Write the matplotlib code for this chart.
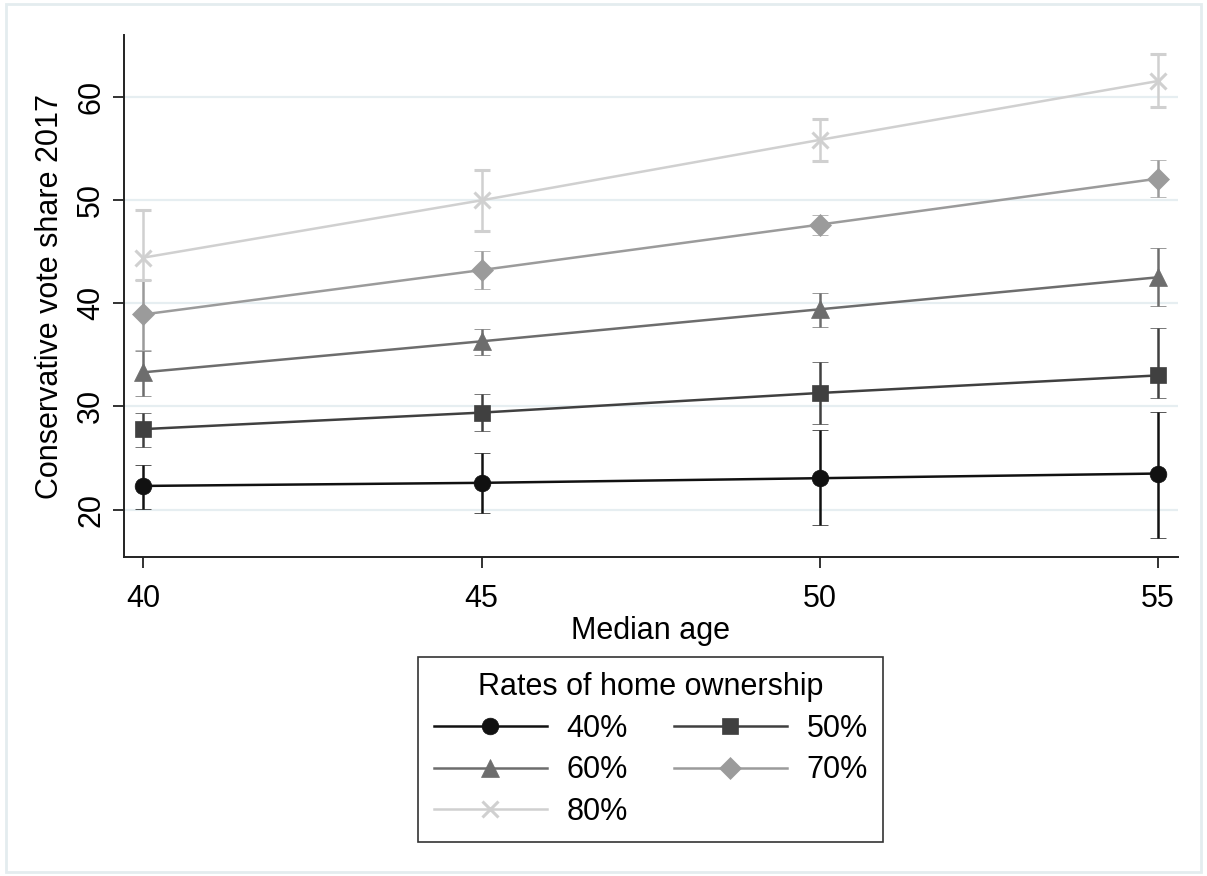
import matplotlib
matplotlib.use("Agg")
import matplotlib.pyplot as plt
from matplotlib.lines import Line2D
from matplotlib.patches import Rectangle

plt.rcParams['font.family'] = ['Liberation Sans', 'DejaVu Sans']

# margins plot: predicted vote share by median age, one line per home ownership rate
median_age = [40, 45, 50, 55]
groups = ["40%", "50%", "60%", "70%", "80%"]

share = {
    "40%": [22.3, 22.6, 23.05, 23.5],
    "50%": [27.8, 29.4, 31.3, 33.0],
    "60%": [33.3, 36.3, 39.4, 42.5],
    "70%": [38.9, 43.2, 47.6, 52.05],
    "80%": [44.4, 49.95, 55.8, 61.5],
}
ci_low = {
    "40%": [20.1, 19.7, 18.55, 17.3],
    "50%": [26.1, 27.6, 28.3, 30.8],
    "60%": [31.0, 35.0, 37.7, 39.7],
    "70%": [35.5, 41.4, 46.6, 50.3],
    "80%": [42.2, 47.0, 53.75, 59.0],
}
ci_high = {
    "40%": [24.3, 25.5, 27.7, 29.5],
    "50%": [29.4, 31.2, 34.3, 37.6],
    "60%": [35.4, 37.5, 41.0, 45.3],
    "70%": [42.2, 45.0, 48.5, 53.9],
    "80%": [49.0, 52.9, 57.8, 64.1],
}

colors = ["#111111", "#404040", "#6d6d6d", "#9b9b9b", "#d0d0d0"]
markers = ["o", "s", "^", "D", "x"]
msizes = [12, 12, 13, 11, 12]

fig = plt.figure(figsize=(12.07, 8.76), dpi=100)
ax = fig.add_axes([0.1030, 0.3638, 0.8727, 0.5962])

handles = {}
for g, c, m, ms in zip(groups, colors, markers, msizes):
    y = share[g]
    yerr = [[v - lo for v, lo in zip(y, ci_low[g])],
            [hi - v for v, hi in zip(y, ci_high[g])]]
    mew = 2.2 if m == "x" else 0.5
    ax.errorbar(median_age, y, yerr=yerr, color=c, ecolor=c, lw=1.8,
                elinewidth=1.8, capsize=5.5, capthick=1.8, marker=m,
                markersize=ms, markeredgewidth=mew,
                markerfacecolor=c, markeredgecolor=c)
    handles[g] = Line2D([], [], color=c, lw=1.8, marker=m, markersize=ms,
                        markeredgewidth=mew, markerfacecolor=c,
                        markeredgecolor=c)

ax.set_xlim(39.72, 55.29)
ax.set_ylim(15.39, 65.95)
ax.set_xticks(median_age)
ax.set_yticks([20, 30, 40, 50, 60])
ax.grid(axis="y", color="#e6eef1", lw=1.6)
ax.set_axisbelow(True)

for side in ("top", "right"):
    ax.spines[side].set_visible(False)
for side in ("left", "bottom"):
    ax.spines[side].set_color("#222222")
    ax.spines[side].set_linewidth(1.4)

ax.tick_params(axis="both", length=8, width=1.3, color="#222222",
               labelsize=22)
ax.tick_params(axis="x", pad=11)
ax.tick_params(axis="y", labelrotation=90, pad=5)
for lab in ax.get_yticklabels():
    lab.set_va("center")

ax.set_xlabel("Median age", fontsize=22, labelpad=2)
ax.set_ylabel("Conservative vote share 2017", fontsize=22, labelpad=4)
ax.yaxis.set_label_coords(-0.056, 0.5)

# row-wise order: 40 50 / 60 70 / 80
order = ["40%", "60%", "80%", "50%", "70%"]
leg = fig.legend([handles[g] for g in order], order,
                 loc="upper center", bbox_to_anchor=(0.5393, 0.25), ncol=2,
                 title="Rates of home ownership", title_fontsize=22,
                 fontsize=22, frameon=True, fancybox=False,
                 edgecolor="#333333", framealpha=1, handlelength=3.7,
                 handletextpad=0.65, columnspacing=1.5, labelspacing=0.38,
                 borderpad=0.5, borderaxespad=0)
leg.get_frame().set_linewidth(1.2)

# light outline round the whole graph region
fig.patches.append(Rectangle((0.005, 0.005), 0.99, 0.99, transform=fig.transFigure,
                             fill=False, edgecolor="#e4ecef", lw=2))

fig.savefig("out.png", dpi=100)
